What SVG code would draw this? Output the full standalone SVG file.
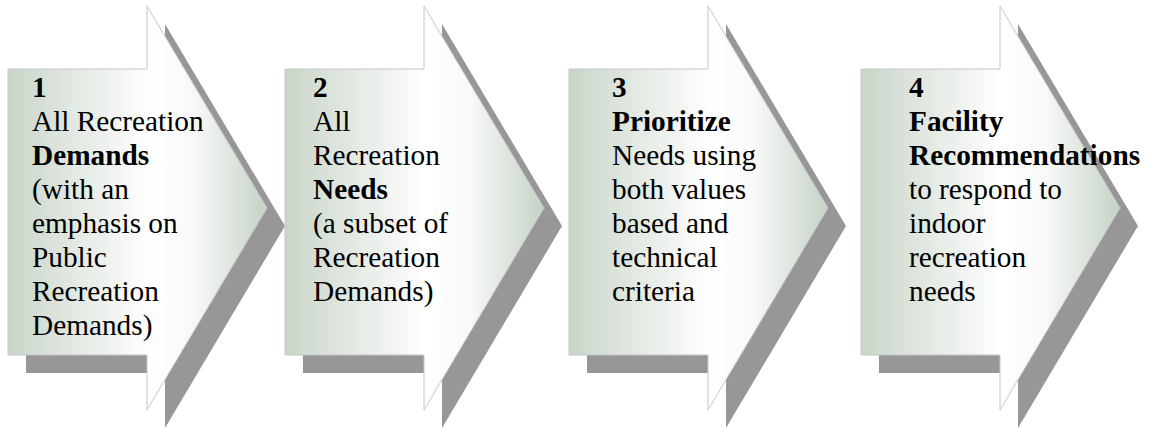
<svg xmlns="http://www.w3.org/2000/svg" width="1151" height="429" viewBox="0 0 1151 429">
<defs>
  <linearGradient id="g" x1="0" y1="0" x2="1" y2="0">
    <stop offset="0" stop-color="#c9d5c9"/>
    <stop offset="0.55" stop-color="#ffffff"/>
    <stop offset="0.72" stop-color="#f7f8f7"/>
    <stop offset="1" stop-color="#c6d3c6"/>
  </linearGradient>
  <polygon id="arrow" points="0,69 139,69 139,6 259,208 139,410 139,355 0,355"/>
</defs>
<style>
  .shadow { fill: #979797; }
  .body { fill: url(#g); stroke: #c4c8c4; stroke-width: 1; }
  .b { font-weight: bold; }
</style>
<rect width="1151" height="429" fill="#ffffff"/>
<g id="connectors"></g>
<g font-family="'Liberation Serif', 'Times New Roman', 'DejaVu Serif', serif" font-size="29.3" fill="#000000">
<g id="step1">
  <use href="#arrow" class="shadow" transform="translate(26,18)"/>
  <use href="#arrow" class="body" transform="translate(8,0)"/>
  <text x="32" y="97" class="b">1</text>
  <text x="32" y="131">All Recreation</text>
  <text x="32" y="165" class="b">Demands</text>
  <text x="32" y="199">(with an</text>
  <text x="32" y="233">emphasis on</text>
  <text x="32" y="267">Public</text>
  <text x="32" y="301">Recreation</text>
  <text x="32" y="335">Demands)</text>
</g>
<g id="step2">
  <use href="#arrow" class="shadow" transform="translate(303,18)"/>
  <use href="#arrow" class="body" transform="translate(285,0)"/>
  <text x="313" y="97" class="b">2</text>
  <text x="313" y="131">All</text>
  <text x="313" y="165">Recreation</text>
  <text x="313" y="199" class="b">Needs</text>
  <text x="313" y="233">(a subset of</text>
  <text x="313" y="267">Recreation</text>
  <text x="313" y="301">Demands)</text>
</g>
<g id="step3">
  <use href="#arrow" class="shadow" transform="translate(587,18)"/>
  <use href="#arrow" class="body" transform="translate(569,0)"/>
  <text x="612" y="97" class="b">3</text>
  <text x="612" y="131" class="b">Prioritize</text>
  <text x="612" y="165">Needs using</text>
  <text x="612" y="199">both values</text>
  <text x="612" y="233">based and</text>
  <text x="612" y="267">technical</text>
  <text x="612" y="301">criteria</text>
</g>
<g id="step4">
  <use href="#arrow" class="shadow" transform="translate(879,18)"/>
  <use href="#arrow" class="body" transform="translate(861,0)"/>
  <text x="909" y="97" class="b">4</text>
  <text x="909" y="131" class="b">Facility</text>
  <text x="909" y="165" class="b">Recommendations</text>
  <text x="909" y="199">to respond to</text>
  <text x="909" y="233">indoor</text>
  <text x="909" y="267">recreation</text>
  <text x="909" y="301">needs</text>
</g>
</g>
</svg>
